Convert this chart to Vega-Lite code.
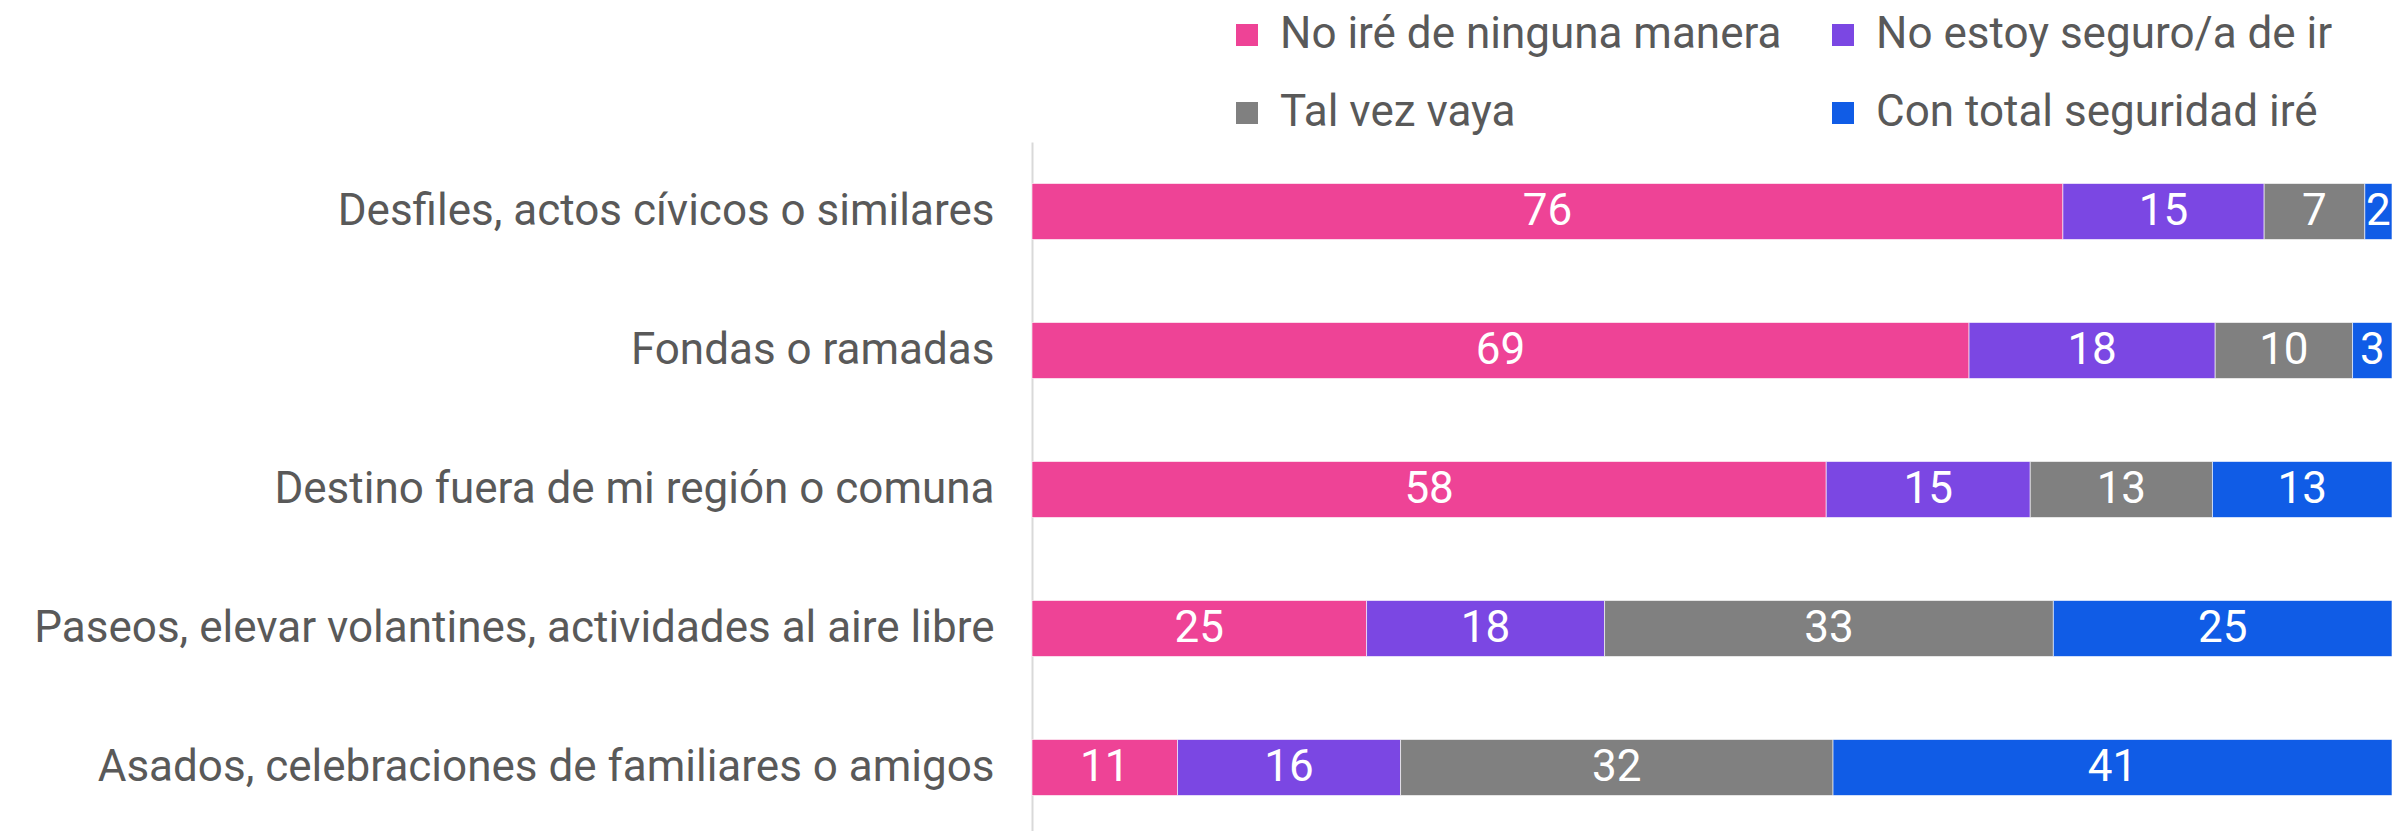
{
  "$schema": "https://vega.github.io/schema/vega-lite/v6.json",
  "width": 1360,
  "height": 695,
  "autosize": {"type": "none"},
  "padding": {"left": 1032, "top": 142, "right": 0, "bottom": 0},
  "background": "white",
  "config": {"view": {"stroke": null}, "font": "Roboto"},
  "data": {
    "values": [
      {"item": "Desfiles, actos cívicos o similares", "cat": "No iré de ninguna manera", "o": 1, "value": 75.8, "label": 76},
      {"item": "Desfiles, actos cívicos o similares", "cat": "No estoy seguro/a de ir", "o": 2, "value": 14.8, "label": 15},
      {"item": "Desfiles, actos cívicos o similares", "cat": "Tal vez vaya", "o": 3, "value": 7.4, "label": 7},
      {"item": "Desfiles, actos cívicos o similares", "cat": "Con total seguridad iré", "o": 4, "value": 2.0, "label": 2},
      {"item": "Fondas o ramadas", "cat": "No iré de ninguna manera", "o": 1, "value": 68.9, "label": 69},
      {"item": "Fondas o ramadas", "cat": "No estoy seguro/a de ir", "o": 2, "value": 18.1, "label": 18},
      {"item": "Fondas o ramadas", "cat": "Tal vez vaya", "o": 3, "value": 10.1, "label": 10},
      {"item": "Fondas o ramadas", "cat": "Con total seguridad iré", "o": 4, "value": 2.9, "label": 3},
      {"item": "Destino fuera de mi región o comuna", "cat": "No iré de ninguna manera", "o": 1, "value": 58.4, "label": 58},
      {"item": "Destino fuera de mi región o comuna", "cat": "No estoy seguro/a de ir", "o": 2, "value": 15.0, "label": 15},
      {"item": "Destino fuera de mi región o comuna", "cat": "Tal vez vaya", "o": 3, "value": 13.4, "label": 13},
      {"item": "Destino fuera de mi región o comuna", "cat": "Con total seguridad iré", "o": 4, "value": 13.2, "label": 13},
      {"item": "Paseos, elevar volantines, actividades al aire libre", "cat": "No iré de ninguna manera", "o": 1, "value": 24.6, "label": 25},
      {"item": "Paseos, elevar volantines, actividades al aire libre", "cat": "No estoy seguro/a de ir", "o": 2, "value": 17.5, "label": 18},
      {"item": "Paseos, elevar volantines, actividades al aire libre", "cat": "Tal vez vaya", "o": 3, "value": 33.0, "label": 33},
      {"item": "Paseos, elevar volantines, actividades al aire libre", "cat": "Con total seguridad iré", "o": 4, "value": 24.9, "label": 25},
      {"item": "Asados, celebraciones de familiares o amigos", "cat": "No iré de ninguna manera", "o": 1, "value": 10.7, "label": 11},
      {"item": "Asados, celebraciones de familiares o amigos", "cat": "No estoy seguro/a de ir", "o": 2, "value": 16.4, "label": 16},
      {"item": "Asados, celebraciones de familiares o amigos", "cat": "Tal vez vaya", "o": 3, "value": 31.8, "label": 32},
      {"item": "Asados, celebraciones de familiares o amigos", "cat": "Con total seguridad iré", "o": 4, "value": 41.1, "label": 41}
    ]
  },
  "transform": [
    {"stack": "value", "groupby": ["item"], "sort": [{"field": "o", "order": "ascending"}], "as": ["s", "e"]}
  ],
  "encoding": {
    "y": {
      "field": "item",
      "type": "nominal",
      "sort": [
        "Desfiles, actos cívicos o similares",
        "Fondas o ramadas",
        "Destino fuera de mi región o comuna",
        "Paseos, elevar volantines, actividades al aire libre",
        "Asados, celebraciones de familiares o amigos"
      ],
      "scale": {"paddingInner": 0.597, "paddingOuter": 0.2985},
      "axis": {
        "title": null,
        "ticks": false,
        "domainColor": "#d9d9d9",
        "domainWidth": 2,
        "labelFontSize": 44,
        "labelColor": "#595959",
        "labelPadding": 38,
        "labelLimit": 0,
        "labelFont": "Roboto"
      }
    }
  },
  "layer": [
    {
      "mark": {"type": "bar", "stroke": "#ffffff", "strokeWidth": 1, "strokeOpacity": 0.6},
      "encoding": {
        "x": {"field": "s", "type": "quantitative", "scale": {"domain": [0, 100], "nice": false}, "axis": null},
        "x2": {"field": "e"},
        "color": {
          "field": "cat",
          "type": "nominal",
          "scale": {
            "domain": ["No iré de ninguna manera", "No estoy seguro/a de ir", "Tal vez vaya", "Con total seguridad iré"],
            "range": ["#EE4396", "#7B47E3", "#808080", "#105CE6"]
          },
          "legend": {
            "orient": "none",
            "legendX": 193,
            "legendY": -129,
            "direction": "horizontal",
            "columns": 2,
            "title": null,
            "symbolType": "square",
            "symbolSize": 484,
            "symbolStrokeWidth": 0,
            "symbolOpacity": 1,
            "labelFontSize": 44,
            "labelFont": "Roboto",
            "labelColor": "#595959",
            "labelLimit": 0,
            "columnPadding": 39,
            "rowPadding": 34,
            "labelOffset": 11
          }
        }
      }
    },
    {
      "transform": [{"fold": ["s", "e"], "as": ["k", "pos"]}],
      "mark": {"type": "text", "color": "white", "fontSize": 44, "baseline": "middle", "align": "center", "font": "Roboto"},
      "encoding": {
        "x": {"aggregate": "mean", "field": "pos", "type": "quantitative", "stack": null, "scale": {"domain": [0, 100], "nice": false}},
        "detail": {"field": "cat"},
        "text": {"field": "label", "type": "quantitative"}
      }
    }
  ]
}
